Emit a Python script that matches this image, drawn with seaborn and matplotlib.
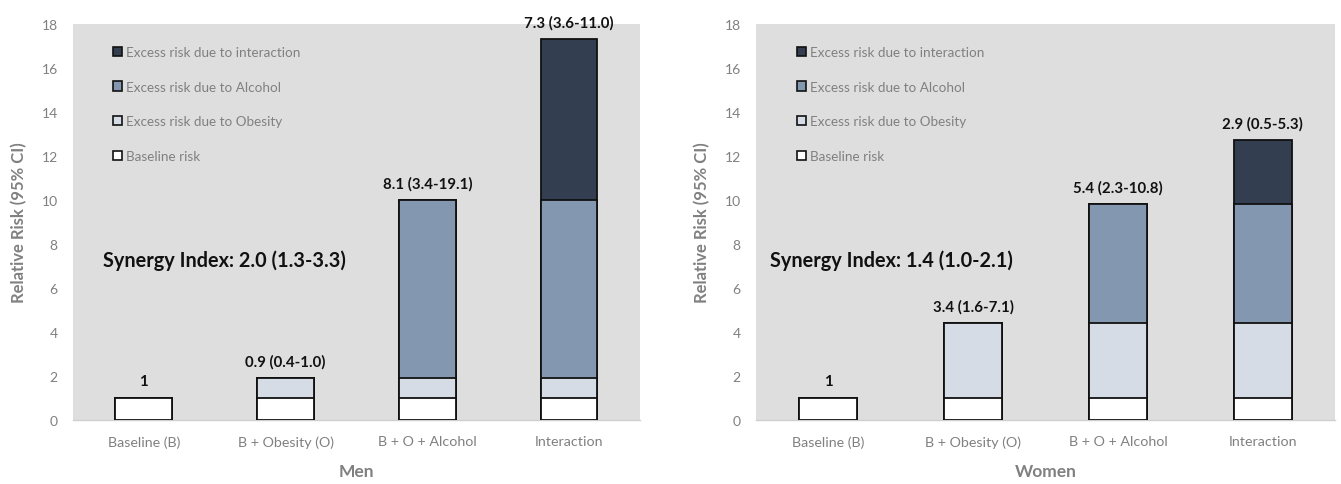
import matplotlib
matplotlib.use("Agg")
import matplotlib.pyplot as plt
from matplotlib.patches import Patch
import numpy as np
import pandas as pd
import seaborn as sns

# ---- data -------------------------------------------------------------
categories = ["Baseline (B)", "B + Obesity (O)", "B + O + Alcohol", "Interaction"]
layers = ["Baseline risk", "Excess risk due to Obesity",
          "Excess risk due to Alcohol", "Excess risk due to interaction"]

men_baseline = [1, 1, 1, 1]
men_obesity = [0, 0.9, 0.9, 0.9]
men_alcohol = [0, 0, 8.1, 8.1]
men_interaction = [0, 0, 0, 7.3]
men_labels = ["1", "0.9 (0.4-1.0)", "8.1 (3.4-19.1)", "7.3 (3.6-11.0)"]
men_synergy = "Synergy Index: 2.0 (1.3-3.3)"

women_baseline = [1, 1, 1, 1]
women_obesity = [0, 3.4, 3.4, 3.4]
women_alcohol = [0, 0, 5.4, 5.4]
women_interaction = [0, 0, 0, 2.9]
women_labels = ["1", "3.4 (1.6-7.1)", "5.4 (2.3-10.8)", "2.9 (0.5-5.3)"]
women_synergy = "Synergy Index: 1.4 (1.0-2.1)"

y_ticks = [0, 2, 4, 6, 8, 10, 12, 14, 16, 18]

# ---- style ------------------------------------------------------------
sns.set_theme(style="white")
plt.rcParams["font.family"] = ["Lato", "DejaVu Sans"]

layer_colors = {
    "Baseline risk": "#FFFFFF",
    "Excess risk due to Obesity": "#D6DCE5",
    "Excess risk due to Alcohol": "#8497B0",
    "Excess risk due to interaction": "#333F50",
}
bg = "#DEDEDE"
grey_text = "#808080"
axis_line = "#CFCFCF"


def stacked_frame(parts):
    """Long table of cumulative tops per layer, for overlay-stacked bars."""
    rows = []
    cum = np.zeros(len(categories))
    for name, vals in zip(layers, parts):
        cum = cum + np.asarray(vals, dtype=float)
        for cat, top in zip(categories, cum):
            rows.append({"category": cat, "layer": name, "top": top})
    return pd.DataFrame(rows)


def draw_panel(ax, parts, labels, synergy, synergy_x, title):
    df = stacked_frame(parts)
    # tallest layer first so lower layers sit on top of it
    for name in reversed(layers):
        sub = df[df["layer"] == name]
        sns.barplot(data=sub, x="category", y="top", order=categories,
                    color=layer_colors[name], saturation=1, width=0.4,
                    edgecolor="#111111", linewidth=1.3, ax=ax, zorder=3)
    totals = df[df["layer"] == layers[-1]].set_index("category")["top"]
    for i, cat in enumerate(categories):
        ax.annotate(labels[i], (i, totals[cat]), xytext=(0, 7),
                    textcoords="offset points", ha="center", va="bottom",
                    fontsize=10.8, fontweight="bold", color="#111111")

    ax.text(synergy_x, 0.404, synergy, transform=ax.transAxes, fontsize=14.3,
            fontweight="bold", color="#111111", ha="left", va="center")

    ax.set_facecolor(bg)
    ax.set_ylim(0, 18)
    ax.set_xlim(-0.5, 3.5)
    ax.set_yticks(y_ticks)
    ax.set_yticklabels([str(t) for t in y_ticks])
    ax.tick_params(axis="y", length=0, pad=11, labelsize=10, labelcolor=grey_text)
    ax.tick_params(axis="x", which="major", length=0, pad=11, labelsize=10.3,
                   labelcolor=grey_text)
    ax.set_xticks([-0.5, 0.5, 1.5, 2.5, 3.5], minor=True)
    ax.tick_params(axis="x", which="minor", length=5, color=axis_line, width=1)
    for side in ("top", "right", "left"):
        ax.spines[side].set_visible(False)
    ax.spines["bottom"].set_color(axis_line)
    ax.spines["bottom"].set_linewidth(1)

    ax.set_ylabel("Relative Risk (95% CI)", fontsize=12, fontweight="bold",
                  color=grey_text, labelpad=10)
    ax.set_xlabel(title, fontsize=12.5, fontweight="bold", color=grey_text,
                  labelpad=11)

    handles = [Patch(facecolor=layer_colors[n], edgecolor="#111111",
                     linewidth=1.2) for n in reversed(layers)]
    leg = ax.legend(handles, list(reversed(layers)), loc="upper left",
                    bbox_to_anchor=(0.061, 0.958), frameon=False, fontsize=9.7,
                    handlelength=0.7, handleheight=0.7, handletextpad=0.3,
                    labelspacing=1.69, borderaxespad=0)
    for t in leg.get_texts():
        t.set_color(grey_text)


fig = plt.figure(figsize=(13.41, 4.85), dpi=100)
ax_men = fig.add_axes([0.0544, 0.1326, 0.4228, 0.8160])
ax_women = fig.add_axes([0.5638, 0.1326, 0.4318, 0.8160])

draw_panel(ax_men, [men_baseline, men_obesity, men_alcohol, men_interaction],
           men_labels, men_synergy, 0.053, "Men")
draw_panel(ax_women, [women_baseline, women_obesity, women_alcohol, women_interaction],
           women_labels, women_synergy, 0.024, "Women")

fig.savefig("out.png", dpi=100, facecolor="white")
